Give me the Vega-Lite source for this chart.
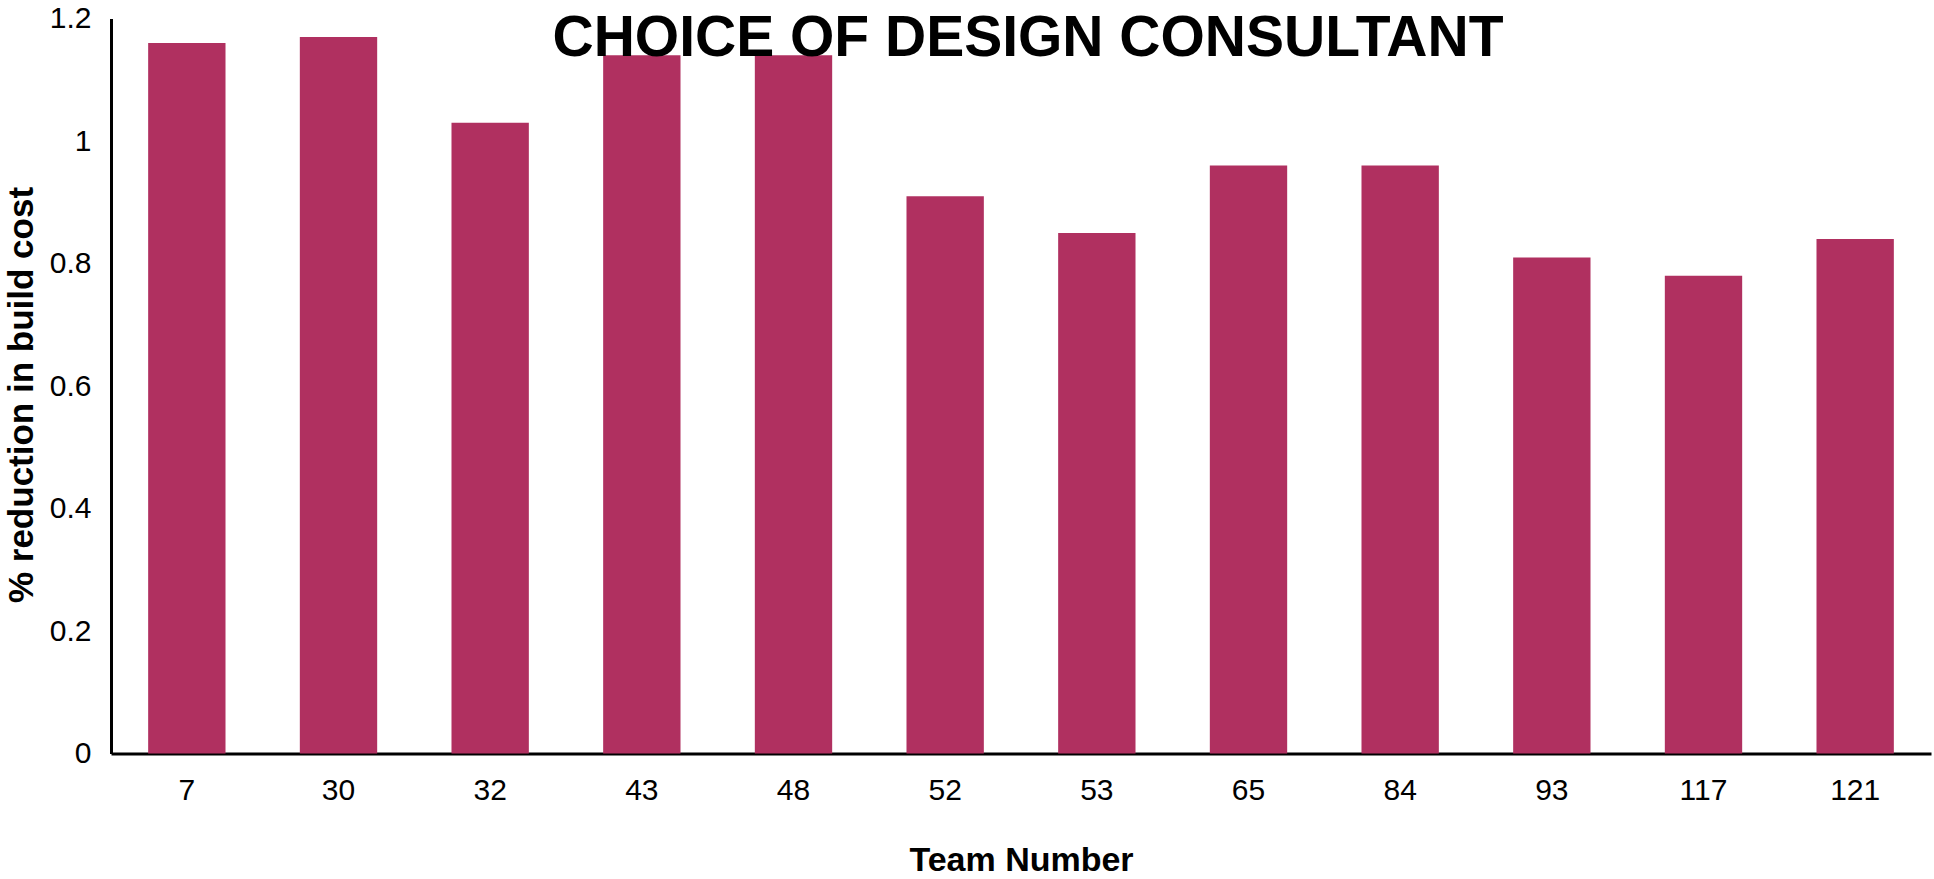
{
  "$schema": "https://vega.github.io/schema/vega-lite/v6.json",
  "width": 1820,
  "height": 735,
  "autosize": {"type": "none"},
  "padding": {"left": 111, "top": 18.5, "right": 3, "bottom": 125.5},
  "background": "white",
  "title": {
    "text": "CHOICE OF DESIGN CONSULTANT",
    "font": "Liberation Sans",
    "fontSize": 57,
    "fontWeight": "bold",
    "color": "black",
    "anchor": "middle",
    "baseline": "top",
    "dx": 7,
    "dy": 68
  },
  "data": {
    "values": [
      {"team": "7", "value": 1.16},
      {"team": "30", "value": 1.17},
      {"team": "32", "value": 1.03},
      {"team": "43", "value": 1.14},
      {"team": "48", "value": 1.14},
      {"team": "52", "value": 0.91},
      {"team": "53", "value": 0.85},
      {"team": "65", "value": 0.96},
      {"team": "84", "value": 0.96},
      {"team": "93", "value": 0.81},
      {"team": "117", "value": 0.78},
      {"team": "121", "value": 0.84}
    ]
  },
  "mark": {"type": "bar", "color": "#b03060"},
  "encoding": {
    "x": {
      "field": "team",
      "type": "nominal",
      "sort": null,
      "scale": {"paddingInner": 0.49, "paddingOuter": 0.245},
      "axis": {
        "title": "Team Number",
        "labelAngle": 0,
        "ticks": false,
        "labelPadding": 22,
        "labelFontSize": 30,
        "labelFont": "Liberation Sans",
        "labelColor": "black",
        "titleFont": "Liberation Sans",
        "titleFontSize": 34,
        "titleFontWeight": "bold",
        "titleColor": "black",
        "titlePadding": 38,
        "domainColor": "black",
        "domainWidth": 3
      }
    },
    "y": {
      "field": "value",
      "type": "quantitative",
      "scale": {"domain": [0, 1.2], "nice": false},
      "axis": {
        "title": "% reduction in build cost",
        "values": [0, 0.2, 0.4, 0.6, 0.8, 1, 1.2],
        "format": "~g",
        "grid": false,
        "ticks": false,
        "labelPadding": 20,
        "labelFontSize": 30,
        "labelFont": "Liberation Sans",
        "labelColor": "black",
        "titleFont": "Liberation Sans",
        "titleFontSize": 35,
        "titleFontWeight": "bold",
        "titleColor": "black",
        "titlePadding": 10,
        "titleY": 376,
        "domainColor": "black",
        "domainWidth": 3
      }
    }
  },
  "config": {"view": {"stroke": null}}
}
